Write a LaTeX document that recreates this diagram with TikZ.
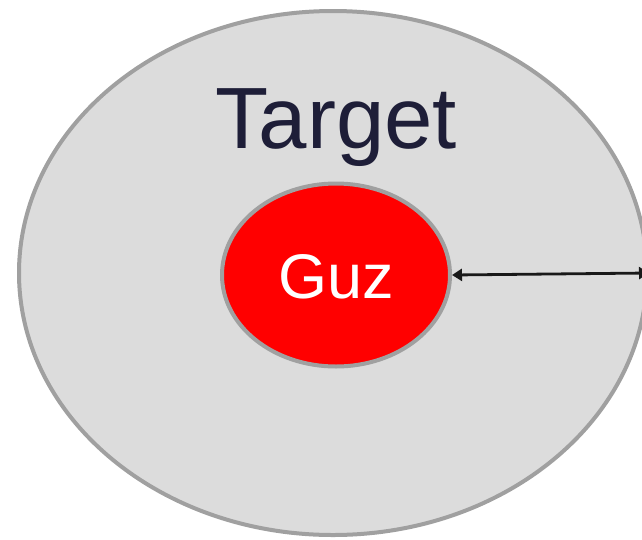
\documentclass[tikz,border=0pt]{standalone}
\usepackage{fontspec}
\setmainfont{Liberation Sans}
\usetikzlibrary{shapes.geometric,arrows.meta}
\definecolor{ringgray}{HTML}{A0A0A0}
\definecolor{fillgray}{HTML}{DCDCDC}
\definecolor{navy}{HTML}{1E1E38}
\begin{document}
\begin{tikzpicture}[x=1pt,y=1pt,
  blob/.style={ellipse, draw=ringgray, line width=4pt, inner sep=0pt},
  dim/.style={{Triangle[length=10pt,width=12pt]}-{Triangle[length=10pt,width=12pt]}, line width=2.8pt, black!90}]
\useasboundingbox (0,0) rectangle (642,-539);
\clip (0,0) rectangle (642,-539);
\node[blob, fill=fillgray, minimum width=628pt, minimum height=524pt] (target) at (333,-273) {};
\node[anchor=base, text=navy, font=\fontsize{87}{92}\selectfont] (title) at (336,-148) {Target};
\node[blob, fill=red, minimum width=228pt, minimum height=183pt] (guz) at (336,-275) {};
\node[anchor=base, text=white, font=\fontsize{63}{70}\selectfont] (guzlabel) at (336,-298) {Guz};
\draw[dim] (guz.east) -- (target.east);
\end{tikzpicture}
\end{document}
